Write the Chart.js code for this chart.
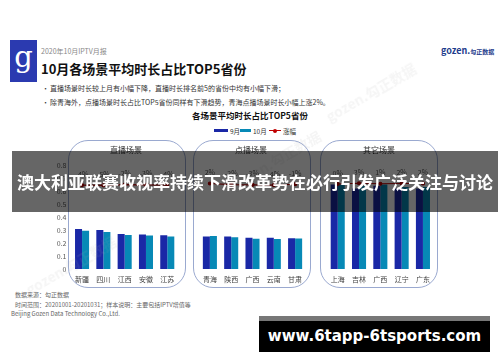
<!DOCTYPE html>
<html><head><meta charset="utf-8">
<script src="https://cdn.jsdelivr.net/npm/chart.js@4/dist/chart.umd.min.js"></script>
<style>
html,body{margin:0;padding:0;background:#fff;}
body{width:500px;height:362px;position:relative;overflow:hidden;font-family:"Noto Sans CJK SC","Noto Sans",sans-serif;}
.abs{position:absolute;white-space:nowrap;}
.box{position:absolute;border:1px solid #9AA9D0;border-radius:20px;box-sizing:border-box;z-index:0;}
.grp{position:absolute;font-size:8px;color:#333;transform:translateX(-50%);z-index:3;}
#c{position:absolute;left:0;top:0;z-index:1;}
.wm{position:absolute;color:rgba(170,170,170,0.12);font-weight:bold;font-size:14px;transform:rotate(-30deg);white-space:nowrap;z-index:2;}
</style></head>
<body>
<div class="abs" style="left:10px;top:40px;width:27px;height:42px;background:#2B3AB0;"></div>
<div class="abs" style="left:10px;top:39px;width:27px;text-align:center;color:#fff;font-family:'DejaVu Serif',serif;font-size:29px;line-height:36px;">g</div>
<div class="abs" style="left:41px;top:46px;font-size:7px;color:#888;">2020年10月IPTV月报</div>
<div class="abs" style="left:41px;top:59px;font-size:13px;font-weight:bold;color:#111;">10月各场景平均时长占比TOP5省份</div>
<div class="abs" style="left:42px;top:83px;font-size:7px;color:#333;">•</div>
<div class="abs" style="left:50px;top:83px;font-size:7px;color:#333;">直播场景时长较上月有小幅下降，直播时长排名前5的省份中均有小幅下滑；</div>
<div class="abs" style="left:42px;top:97px;font-size:7px;color:#333;">•</div>
<div class="abs" style="left:50px;top:97px;font-size:7px;color:#333;">除青海外，点播场景时长占比TOP5省份同样有下滑趋势，青海点播场景时长小幅上涨2%。</div>
<div class="abs" style="left:441px;top:44px;font-size:9px;font-weight:bold;color:#1E3C8C;">gozen.<span style="font-size:6px;">勾正数据</span></div>
<div class="wm" style="left:320px;top:82px;">gozen.勾正数据</div>
<div class="wm" style="left:225px;top:150px;">gozen.勾正数据</div>
<div class="wm" style="left:20px;top:255px;">gozen.勾正数据</div>

<div class="abs" style="left:0;width:500px;top:109px;text-align:center;font-size:8.5px;font-weight:bold;color:#111;">各场景平均时长占比TOP5省份</div>
<div class="abs" style="left:214px;top:129px;width:14px;height:3px;background:#1A28A6;"></div>
<div class="abs" style="left:230px;top:126px;font-size:6.5px;color:#333;">9月</div>
<div class="abs" style="left:240px;top:129px;width:11px;height:3px;background:#0789B6;"></div>
<div class="abs" style="left:253px;top:126px;font-size:6.5px;color:#333;">10月</div>
<div class="abs" style="left:269px;top:130px;width:12px;height:1px;border-top:1.5px solid #C00000;"></div>
<div class="abs" style="left:273px;top:128.5px;width:4px;height:4px;border-radius:2px;background:#C00000;"></div>
<div class="abs" style="left:283px;top:126px;font-size:6.5px;color:#333;">涨幅</div>

<div class="box" style="left:68px;top:140px;width:118px;height:148px;"></div>
<div class="box" style="left:193px;top:140px;width:118px;height:148px;"></div>
<div class="box" style="left:320px;top:140px;width:118px;height:148px;"></div>
<div class="grp" style="left:126px;top:144px;">直播场景</div>
<div class="grp" style="left:251px;top:144px;">点播场景</div>
<div class="grp" style="left:379px;top:144px;">其它场景</div>

<canvas id="c" width="500" height="362"></canvas>

<div class="abs" style="left:15px;top:290px;font-size:6px;color:#666;">数据来源：勾正数据</div>
<div class="abs" style="left:15px;top:300px;font-size:6px;color:#666;">时间范围：20201001-20201031；样本说明：主要包括IPTV增值等</div>
<div class="abs" style="left:11px;top:309px;font-size:6px;color:#666;">Beijing Gozen Data Technology Co.,Ltd.</div>

<div class="abs" style="left:12px;top:151px;width:486px;height:61px;background:rgba(0,0,0,0.6);z-index:5;"></div>
<div class="abs" style="left:12px;top:151px;width:486px;height:61px;line-height:61px;text-align:center;color:#fff;font-weight:bold;font-size:17px;z-index:6;">澳大利亚联赛收视率持续下滑改革势在必行引发广泛关注与讨论</div>

<div class="abs" style="left:259px;top:316px;width:231px;height:5px;background:#777;z-index:5;"></div>
<div class="abs" style="left:259px;top:321px;width:231px;height:31px;background:#000;z-index:5;"></div>
<div class="abs" style="left:259px;top:321px;width:231px;height:31px;line-height:31px;text-align:center;color:#fff;font-weight:bold;font-size:15px;font-family:'DejaVu Sans','Noto Sans',sans-serif;z-index:6;">www.6tapp-6tsports.com</div>

<script>
const categories = ['新疆','四川','江西','安徽','江苏','','青海','陕西','广西','云南','甘肃','','上海','吉林','广西','辽宁','广东'];
const sep = [0.307,0.300,0.269,0.265,0.260,null,0.250,0.250,0.240,0.240,0.236,null,0.650,0.620,0.640,0.620,0.620];
const oct = [0.295,0.285,0.262,0.257,0.250,null,0.254,0.244,0.233,0.230,0.234,null,0.650,0.640,0.650,0.630,0.630];
const growth = [-0.04,-0.05,-0.02,-0.03,-0.04,null,0.02,-0.02,-0.03,-0.04,-0.01,null,0.00,0.03,0.01,0.02,0.02];
const yTicks = [0,0.1,0.2,0.3,0.4,0.5,0.6,0.7,0.8];

const labelPlugin = {
  id:'pctLabels',
  afterDatasetsDraw(chart){
    const meta = chart.getDatasetMeta(2);
    const ctx = chart.ctx;
    ctx.save();
    ctx.font = '7px "Noto Sans CJK SC"';
    ctx.fillStyle = '#595959';
    ctx.textAlign = 'center';
    ctx.textBaseline = 'middle';
    meta.data.forEach((pt,i)=>{
      if (growth[i] === null) return;
      ctx.fillText(Math.round(growth[i]*100)+'%', pt.x, pt.y-11);
    });
    ctx.restore();
  }
};

new Chart(document.getElementById('c'), {
  data:{
    labels: categories,
    datasets:[
      {type:'bar', label:'9月', data:sep, backgroundColor:'#1A28A6', order:1, yAxisID:'y'},
      {type:'bar', label:'10月', data:oct, backgroundColor:'#0789B6', order:1, yAxisID:'y'},
      {type:'line', label:'涨幅', data:growth, borderColor:'#C00000', backgroundColor:'#C00000', borderWidth:1.2, pointRadius:1.5, spanGaps:false, order:0, yAxisID:'y1'}
    ]
  },
  options:{
    responsive:false, animation:false,
    layout:{padding:{left:40.4,right:66.4,top:165,bottom:75}},
    plugins:{legend:{display:false}, tooltip:{enabled:false}},
    datasets:{bar:{categoryPercentage:0.66, barPercentage:1}},
    scales:{
      x:{grid:{display:false, drawTicks:false}, border:{display:false},
         ticks:{padding:6, autoSkip:false, maxRotation:0, font:{size:7, family:'"Noto Sans CJK SC"'}, color:'#404040'},
         afterFit(s){s.height=18;}},
      y:{min:0,max:0.8, grid:{display:false, drawTicks:false}, border:{display:false},
         afterBuildTicks(s){s.ticks = yTicks.map(v=>({value:v}));},
         ticks:{padding:5, font:{size:7, family:'"Noto Sans CJK SC"'}, color:'#595959', callback:(v)=>String(+v.toFixed(1))},
         afterFit(s){s.width=31;}},
      y1:{display:false, min:-3.269, max:0.731}
    }
  },
  plugins:[labelPlugin]
});
</script>
</body></html>
